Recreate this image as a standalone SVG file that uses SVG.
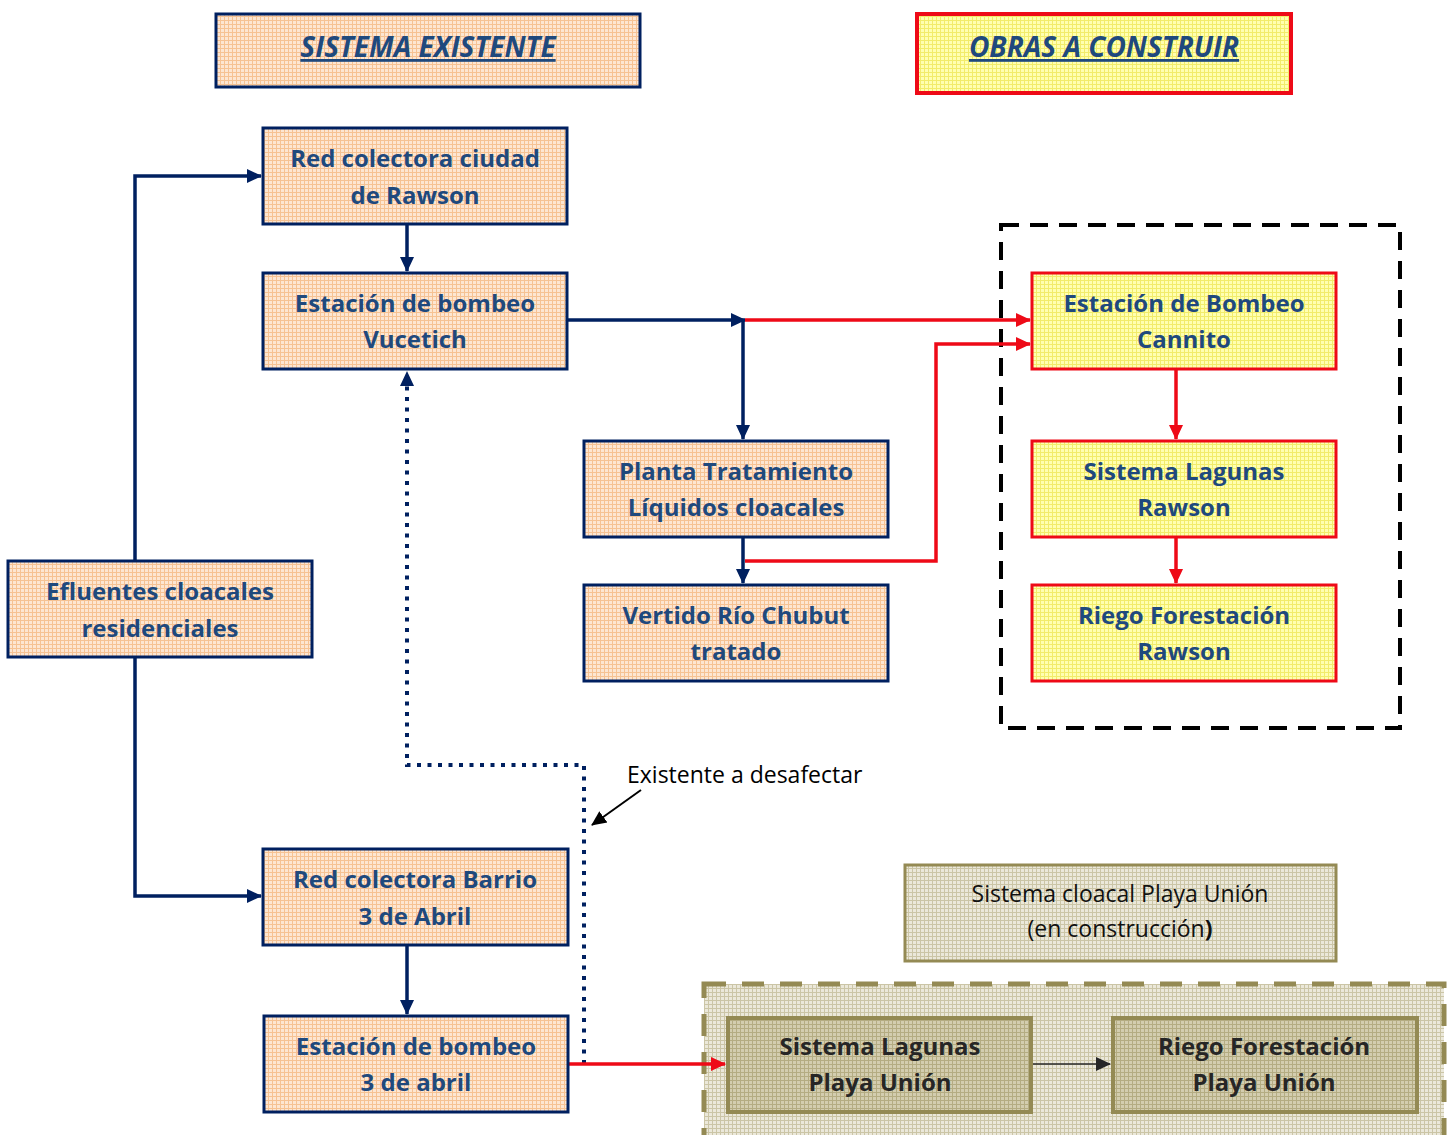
<svg xmlns="http://www.w3.org/2000/svg" width="1452" height="1135" viewBox="0 0 1452 1135">
<defs>
<pattern id="pPeach" width="4" height="4" patternUnits="userSpaceOnUse">
<rect width="4" height="4" fill="#fde6d2"/>
<path d="M0,0.5 H4 M0.5,0 V4" stroke="#f6c293" stroke-width="1"/>
</pattern>
<pattern id="pYellow" width="4" height="4" patternUnits="userSpaceOnUse">
<rect width="4" height="4" fill="#ffffb0"/>
<path d="M0,0.5 H4 M0.5,0 V4" stroke="#f2ec6a" stroke-width="1"/>
</pattern>
<pattern id="pOlive" width="4" height="4" patternUnits="userSpaceOnUse">
<rect width="4" height="4" fill="#ebe8da"/>
<path d="M0,0.5 H4 M0.5,0 V4" stroke="#cbc5a6" stroke-width="1"/>
</pattern>
<pattern id="pOliveDark" width="4" height="4" patternUnits="userSpaceOnUse">
<rect width="4" height="4" fill="#d3cdaf"/>
<path d="M0,0.5 H4 M0.5,0 V4" stroke="#b4ac82" stroke-width="1"/>
</pattern>
<marker id="aNavy" markerUnits="userSpaceOnUse" markerWidth="16" markerHeight="16" refX="14" refY="8" orient="auto">
<path d="M0,1 L15,8 L0,15 z" fill="#002060"/>
</marker>
<marker id="aRed" markerUnits="userSpaceOnUse" markerWidth="16" markerHeight="16" refX="14" refY="8" orient="auto">
<path d="M0,1 L15,8 L0,15 z" fill="#ee0a17"/>
</marker>
<marker id="aBlack" markerUnits="userSpaceOnUse" markerWidth="16" markerHeight="16" refX="14" refY="8" orient="auto">
<path d="M0,1 L15,8 L0,15 z" fill="#000"/>
</marker>
<marker id="aDark" markerUnits="userSpaceOnUse" markerWidth="16" markerHeight="16" refX="14" refY="8" orient="auto">
<path d="M0,1 L15,8 L0,15 z" fill="#262626"/>
</marker>
</defs>
<style>
.peach{fill:url(#pPeach);stroke:#002060;stroke-width:3}
.yel{fill:url(#pYellow);stroke:#ee0a17;stroke-width:3}
.t{font-family:"Open Sans",Lato,"Liberation Sans",sans-serif;font-weight:bold;font-size:24px;fill:#1f497d;text-anchor:middle}
.td{font-family:"Open Sans",Lato,"Liberation Sans",sans-serif;font-weight:bold;font-size:24px;fill:#262626;text-anchor:middle}
.tn{font-family:"Open Sans",Lato,"Liberation Sans",sans-serif;font-size:23px;fill:#111;text-anchor:middle}
.title{font-family:"Open Sans",Lato,"Liberation Sans",sans-serif;font-weight:bold;font-style:italic;font-size:28px;fill:#1f497d;text-anchor:middle;text-decoration:underline}
.cn{fill:none;stroke:#002060;stroke-width:3.5}
.cr{fill:none;stroke:#ee0a17;stroke-width:3.5}
</style>

<g id="title-existente">
<rect x="216" y="14" width="424" height="73" fill="url(#pPeach)" stroke="#002060" stroke-width="3"/>
<text class="title" x="428" y="57">SISTEMA EXISTENTE</text>
</g>
<g id="title-obras">
<rect x="917" y="14" width="374" height="79" fill="url(#pYellow)" stroke="#ee0a17" stroke-width="4"/>
<text class="title" x="1104" y="57">OBRAS A CONSTRUIR</text>
</g>

<g id="group-nuevas">
<rect x="1001" y="225" width="399" height="503" fill="none" stroke="#000" stroke-width="4" stroke-dasharray="18,11"/>
</g>
<g id="group-playa">
<rect x="704" y="984" width="740" height="160" fill="url(#pOlive)" stroke="#948a54" stroke-width="5" stroke-dasharray="22,16"/>
</g>

<g id="connectors">
<path class="cn" d="M135,561 V176 H261" marker-end="url(#aNavy)"/>
<path class="cn" d="M135,657 V896 H261" marker-end="url(#aNavy)"/>
<path class="cn" d="M407,224 V271" marker-end="url(#aNavy)"/>
<path class="cn" d="M567,320 H745" marker-end="url(#aNavy)"/>
<path class="cn" d="M743,320 V439" marker-end="url(#aNavy)"/>
<path class="cn" d="M743,537 V583" marker-end="url(#aNavy)"/>
<path class="cn" d="M407,945 V1014" marker-end="url(#aNavy)"/>
<path d="M584,1064 V765 H407 V372" fill="none" stroke="#002060" stroke-width="4" stroke-dasharray="4,6.5" marker-end="url(#aNavy)"/>
<path class="cr" d="M745,320 H1030" marker-end="url(#aRed)"/>
<path class="cr" d="M745,561 H936 V344 H1030" marker-end="url(#aRed)"/>
<path class="cr" d="M1176,369 V439" marker-end="url(#aRed)"/>
<path class="cr" d="M1176,537 V583" marker-end="url(#aRed)"/>
<path class="cr" d="M568,1064 H725" marker-end="url(#aRed)"/>
<path d="M1031,1064 H1110" fill="none" stroke="#262626" stroke-width="1.5" marker-end="url(#aDark)"/>
<path d="M641,790 L592,825" fill="none" stroke="#000" stroke-width="2" marker-end="url(#aBlack)"/>
</g>

<g id="n-red-rawson">
<rect class="peach" x="263" y="128" width="304" height="96"/>
<text class="t" x="415" y="167">Red colectora ciudad</text>
<text class="t" x="415" y="204">de Rawson</text>
</g>
<g id="n-vucetich">
<rect class="peach" x="263" y="273" width="304" height="96"/>
<text class="t" x="415" y="312">Estación de bombeo</text>
<text class="t" x="415" y="348">Vucetich</text>
</g>
<g id="n-planta">
<rect class="peach" x="584" y="441" width="304" height="96"/>
<text class="t" x="736" y="480">Planta Tratamiento</text>
<text class="t" x="736" y="516">Líquidos cloacales</text>
</g>
<g id="n-vertido">
<rect class="peach" x="584" y="585" width="304" height="96"/>
<text class="t" x="736" y="624">Vertido Río Chubut</text>
<text class="t" x="736" y="660">tratado</text>
</g>
<g id="n-efluentes">
<rect class="peach" x="8" y="561" width="304" height="96"/>
<text class="t" x="160" y="600">Efluentes cloacales</text>
<text class="t" x="160" y="637">residenciales</text>
</g>
<g id="n-red-barrio">
<rect class="peach" x="263" y="849" width="305" height="96"/>
<text class="t" x="415" y="888">Red colectora Barrio</text>
<text class="t" x="415" y="925">3 de Abril</text>
</g>
<g id="n-eb-3abril">
<rect class="peach" x="264" y="1016" width="304" height="96"/>
<text class="t" x="416" y="1055">Estación de bombeo</text>
<text class="t" x="416" y="1091">3 de abril</text>
</g>
<g id="n-cannito">
<rect class="yel" x="1032" y="273" width="304" height="96"/>
<text class="t" x="1184" y="312">Estación de Bombeo</text>
<text class="t" x="1184" y="348">Cannito</text>
</g>
<g id="n-lagunas-rawson">
<rect class="yel" x="1032" y="441" width="304" height="96"/>
<text class="t" x="1184" y="480">Sistema Lagunas</text>
<text class="t" x="1184" y="516">Rawson</text>
</g>
<g id="n-riego-rawson">
<rect class="yel" x="1032" y="585" width="304" height="96"/>
<text class="t" x="1184" y="624">Riego Forestación</text>
<text class="t" x="1184" y="660">Rawson</text>
</g>
<g id="n-playa-sistema">
<rect x="905" y="865" width="431" height="96" fill="url(#pOlive)" stroke="#948a54" stroke-width="3"/>
<text class="tn" x="1120" y="902">Sistema cloacal Playa Unión</text>
<text class="tn" x="1120" y="937">(en construcción<tspan font-weight="bold">)</tspan></text>
</g>
<g id="n-lagunas-playa">
<rect x="728" y="1018" width="303" height="94" fill="url(#pOliveDark)" stroke="#948a54" stroke-width="4"/>
<text class="td" x="880" y="1055">Sistema Lagunas</text>
<text class="td" x="880" y="1091">Playa Unión</text>
</g>
<g id="n-riego-playa">
<rect x="1113" y="1018" width="304" height="94" fill="url(#pOliveDark)" stroke="#948a54" stroke-width="4"/>
<text class="td" x="1264" y="1055">Riego Forestación</text>
<text class="td" x="1264" y="1091">Playa Unión</text>
</g>
<g id="annotation">
<text x="627" y="783" font-family="'Open Sans',Lato,'Liberation Sans',sans-serif" font-size="23" fill="#000">Existente a desafectar</text>
</g>
</svg>
